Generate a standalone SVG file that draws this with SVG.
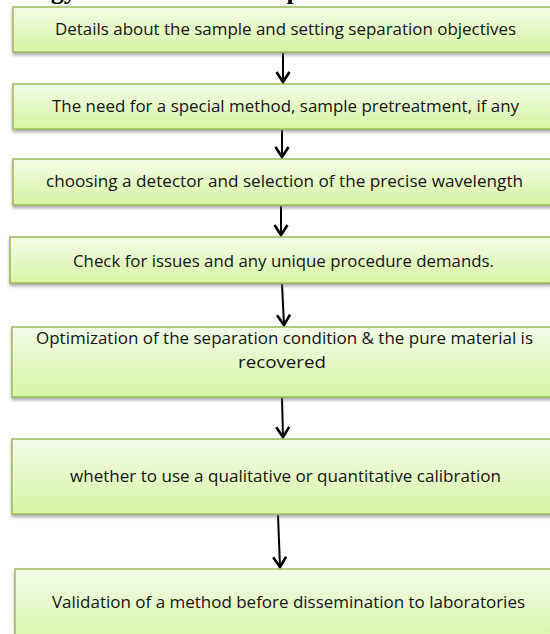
<svg xmlns="http://www.w3.org/2000/svg" width="550" height="634" viewBox="0 0 550 634">
<style>
.box{fill:url(#g);stroke:#9bbb59;stroke-width:1.5;filter:url(#sh)}
.t{font-family:"Open Sans","Liberation Sans",sans-serif;font-size:15.5px;fill:#141414;text-anchor:middle}
.h{font-family:"Liberation Serif","Times New Roman",serif;font-size:26px;font-weight:bold;fill:#000}
.c{fill:none;stroke:#000;stroke-width:2;marker-end:url(#arr)}
</style>
<defs>
<linearGradient id="g" x1="0" y1="0" x2="0" y2="1">
<stop offset="0" stop-color="#f3fce8"/>
<stop offset="1" stop-color="#d7f4a4"/>
</linearGradient>
<filter id="sh" x="-5%" y="-20%" width="110%" height="150%">
<feDropShadow dx="0" dy="2.5" stdDeviation="1.5" flood-color="#777" flood-opacity="0.6"/>
</filter>
<marker id="arr" markerUnits="userSpaceOnUse" markerWidth="20" markerHeight="20" viewBox="-12 -10 20 20" refX="0" refY="0" orient="auto">
<path d="M-10,-6.5 L0,0 L-10,6.5" fill="none" stroke="#000" stroke-width="2.6"/>
</marker>
</defs>
<rect width="550" height="634" fill="#fff"/>
<text class="h" x="-17" y="-1">Strategy for Method development</text>
<g id="connectors">
<path class="c" d="M283,53 L283,82"/>
<path class="c" d="M282,130 L282,157"/>
<path class="c" d="M281,206 L281,235"/>
<path class="c" d="M282,284 L284,325"/>
<path class="c" d="M282,398 L283,437"/>
<path class="c" d="M278,515 L280,567"/>
</g>
<g id="n1"><rect class="box" x="13" y="7" width="540" height="45"/>
<text class="t" x="285.5" y="35" textLength="461" lengthAdjust="spacingAndGlyphs">Details about the sample and setting separation objectives</text></g>
<g id="n2"><rect class="box" x="13" y="84" width="540" height="45"/>
<text class="t" x="285.5" y="112" textLength="467" lengthAdjust="spacingAndGlyphs">The need for a special method, sample pretreatment, if any</text></g>
<g id="n3"><rect class="box" x="13" y="159" width="540" height="46"/>
<text class="t" x="284.5" y="187" textLength="477" lengthAdjust="spacingAndGlyphs">choosing a detector and selection of the precise wavelength</text></g>
<g id="n4"><rect class="box" x="10" y="237" width="543" height="46"/>
<text class="t" x="283.5" y="267" textLength="421" lengthAdjust="spacingAndGlyphs">Check for issues and any unique procedure demands.</text></g>
<g id="n5"><rect class="box" x="12" y="327" width="541" height="70"/>
<text class="t" x="284.5" y="344" textLength="497" lengthAdjust="spacingAndGlyphs">Optimization of the separation condition &amp; the pure material is</text>
<text class="t" x="282" y="368" textLength="88" lengthAdjust="spacingAndGlyphs">recovered</text></g>
<g id="n6"><rect class="box" x="12" y="439" width="541" height="75"/>
<text class="t" x="285.5" y="482" textLength="431" lengthAdjust="spacingAndGlyphs">whether to use a qualitative or quantitative calibration</text></g>
<g id="n7"><rect class="box" x="15" y="569" width="538" height="80"/>
<text class="t" x="288.5" y="608" textLength="473" lengthAdjust="spacingAndGlyphs">Validation of a method before dissemination to laboratories</text></g>
</svg>
